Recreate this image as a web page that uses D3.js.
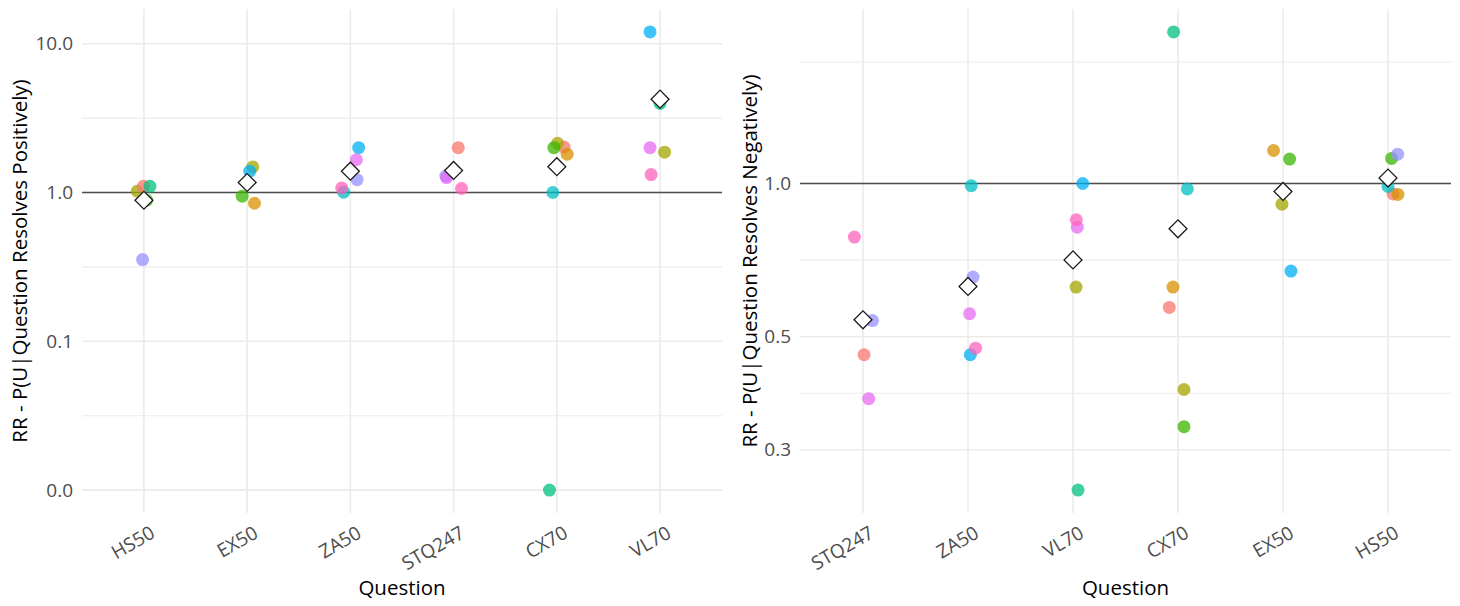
<!DOCTYPE html>
<html>
<head>
<meta charset="utf-8">
<script src="https://cdn.jsdelivr.net/npm/d3@7"></script>
<style>
  body { margin: 0; background: #fff; }
  text { font-family: "Open Sans", sans-serif; }
</style>
</head>
<body>
<svg width="1460" height="606"></svg>
<script>
// ggplot hue palette, one colour per forecaster (0..9)
var hues = ["#F8766D","#D89000","#A3A500","#39B600","#00BF7D","#00BFC4","#00B0F6","#9590FF","#E76BF3","#FF62BC"]

// left panel: question resolves positively
var posQuestions = ["HS50","EX50","ZA50","STQ247","CX70","VL70"]
// [question, forecaster, RR]
var posRows = [
  ["HS50",2,1.02],["HS50",0,1.10],["HS50",4,1.10],["HS50",3,0.887],["HS50",7,0.354],
  ["EX50",1,0.847],["EX50",2,1.486],["EX50",3,0.944],["EX50",6,1.39],
  ["ZA50",5,1.005],["ZA50",6,2.0],["ZA50",7,1.22],["ZA50",8,1.66],["ZA50",9,1.074],
  ["STQ247",0,2.0],["STQ247",7,1.29],["STQ247",8,1.26],["STQ247",9,1.064],
  ["CX70",0,2.02],["CX70",1,1.81],["CX70",2,2.14],["CX70",3,2.0],["CX70",4,0.01],["CX70",5,1.0],
  ["VL70",2,1.867],["VL70",4,3.97],["VL70",6,12.0],["VL70",8,2.0],["VL70",9,1.32]
]
// jittered x offset, in category units
var posJitter = [-0.064,-0.006,0.058,0.026,-0.013,
  0.071,0.054,-0.048,0.025,
  -0.065,0.08,0.065,0.058,-0.084,
  0.045,-0.075,-0.068,0.077,
  0.07,0.1,0.007,-0.029,-0.071,-0.039,
  0.044,0.0,-0.097,-0.097,-0.087]
var posMeans = [0.887,1.167,1.39,1.406,1.49,4.24]
var posBreaks = [0.01,0.1,1,10]

// right panel: question resolves negatively
var negQuestions = ["STQ247","ZA50","VL70","CX70","EX50","HS50"]
var negRows = [
  ["STQ247",0,0.461],["STQ247",7,0.538],["STQ247",8,0.378],["STQ247",9,0.785],
  ["ZA50",5,0.99],["ZA50",6,0.461],["ZA50",7,0.655],["ZA50",8,0.555],["ZA50",9,0.475],
  ["VL70",2,0.626],["VL70",4,0.25],["VL70",6,1.0],["VL70",8,0.821],["VL70",9,0.849],
  ["CX70",0,0.571],["CX70",1,0.626],["CX70",2,0.394],["CX70",3,0.333],["CX70",4,1.985],["CX70",5,0.976],
  ["EX50",1,1.161],["EX50",2,0.911],["EX50",3,1.117],["EX50",6,0.673],
  ["HS50",0,0.954],["HS50",1,0.952],["HS50",3,1.12],["HS50",5,0.987],["HS50",7,1.142]
]
var negJitter = [0.01,0.09,0.054,-0.082,
  0.031,0.022,0.048,0.015,0.072,
  0.029,0.048,0.092,0.041,0.031,
  -0.083,-0.048,0.057,0.057,-0.042,0.089,
  -0.09,-0.01,0.063,0.076,
  0.048,0.095,0.034,0.0,0.092]
var negMeans = [0.540,0.628,0.708,0.815,0.965,1.025]
var negBreaks = [0.3,0.5,1,3]

var svg = d3.select("svg")
var plotTop = 9, plotBottom = 513

var drawPanel = function(p)
{
  var x = d3.scalePoint().domain(p.questions).range([p.x0, p.x1]).padding(0.6)

  var ext = d3.extent(p.rows, function(r){return Math.log10(r[2]);})
  var pad = (ext[1] - ext[0]) * 0.05
  var y = d3.scaleLog()
            .domain([Math.pow(10, ext[0] - pad), Math.pow(10, ext[1] + pad)])
            .range([plotBottom, plotTop])
  var dom = y.domain()
  var inside = function(v){return v >= dom[0] && v <= dom[1];}
  var major = p.breaks.filter(inside)
  var minor = d3.pairs(p.breaks).map(function(b){return Math.sqrt(b[0]*b[1]);}).filter(inside)

  var g = svg.append("g")

  g.selectAll(".minor").data(minor).enter().append("line")
   .attr("x1", p.x0).attr("x2", p.x1)
   .attr("y1", function(d){return y(d);}).attr("y2", function(d){return y(d);})
   .attr("stroke", "#EBEBEB").attr("stroke-width", 1.1)

  g.selectAll(".major").data(major).enter().append("line")
   .attr("x1", p.x0).attr("x2", p.x1)
   .attr("y1", function(d){return y(d);}).attr("y2", function(d){return y(d);})
   .attr("stroke", "#EBEBEB").attr("stroke-width", 1.6)

  g.selectAll(".vgrid").data(p.questions).enter().append("line")
   .attr("x1", function(d){return x(d);}).attr("x2", function(d){return x(d);})
   .attr("y1", plotTop).attr("y2", plotBottom)
   .attr("stroke", "#EBEBEB").attr("stroke-width", 1.6)

  // reference line at RR = 1
  g.append("line")
   .attr("x1", p.x0).attr("x2", p.x1)
   .attr("y1", y(1)).attr("y2", y(1))
   .attr("stroke", "#4D4D4D").attr("stroke-width", 1.4)

  var yAxis = g.append("g")
               .attr("transform", "translate(" + p.x0 + ",0)")
               .call(d3.axisLeft(y).tickValues(major).tickFormat(d3.format(".1f")).tickSize(0).tickPadding(9))
  yAxis.select(".domain").remove()
  yAxis.selectAll("text").attr("font-size", 19).attr("fill", "#4D4D4D").attr("font-family", "Open Sans")

  var xAxis = g.append("g")
               .attr("transform", "translate(0," + plotBottom + ")")
               .call(d3.axisBottom(x).tickSize(0))
  xAxis.select(".domain").remove()
  xAxis.selectAll("text")
       .attr("font-size", 19).attr("fill", "#4D4D4D").attr("font-family", "Open Sans")
       .attr("x", 0).attr("y", 0).attr("dy", "0.71em")
       .attr("text-anchor", "end")
       .attr("transform", "translate(5,12) rotate(-30)")

  g.selectAll(".pt").data(p.rows).enter().append("circle")
   .attr("cx", function(d,i){return x(d[0]) + p.jitter[i] * x.step();})
   .attr("cy", function(d){return y(d[2]);})
   .attr("r", 6.5)
   .attr("fill", function(d){return hues[d[1]];})
   .attr("fill-opacity", 0.75)

  g.selectAll(".mean").data(p.means).enter().append("path")
   .attr("d", d3.symbol(d3.symbolSquare, 160))
   .attr("transform", function(d,i){return "translate(" + x(p.questions[i]) + "," + y(d) + ") rotate(45)";})
   .attr("fill", "#fff").attr("stroke", "#1A1A1A").attr("stroke-width", 1.3)

  g.append("text")
   .attr("x", (p.x0 + p.x1) / 2).attr("y", 595)
   .attr("text-anchor", "middle").attr("font-size", 20.5).attr("fill", "#000")
   .text("Question")

  g.append("text")
   .attr("transform", "translate(" + p.titleX + "," + (plotTop + plotBottom) / 2 + ") rotate(-90)")
   .attr("text-anchor", "middle").attr("font-size", 20.5).attr("fill", "#000")
   .text(p.yTitle)
}

drawPanel({x0: 82, x1: 722, titleX: 26.5, questions: posQuestions, rows: posRows, jitter: posJitter,
           means: posMeans, breaks: posBreaks, yTitle: "RR - P(U|Question Resolves Positively)"})
drawPanel({x0: 800, x1: 1451, titleX: 756.5, questions: negQuestions, rows: negRows, jitter: negJitter,
           means: negMeans, breaks: negBreaks, yTitle: "RR - P(U|Question Resolves Negatively)"})
</script>
</body>
</html>
